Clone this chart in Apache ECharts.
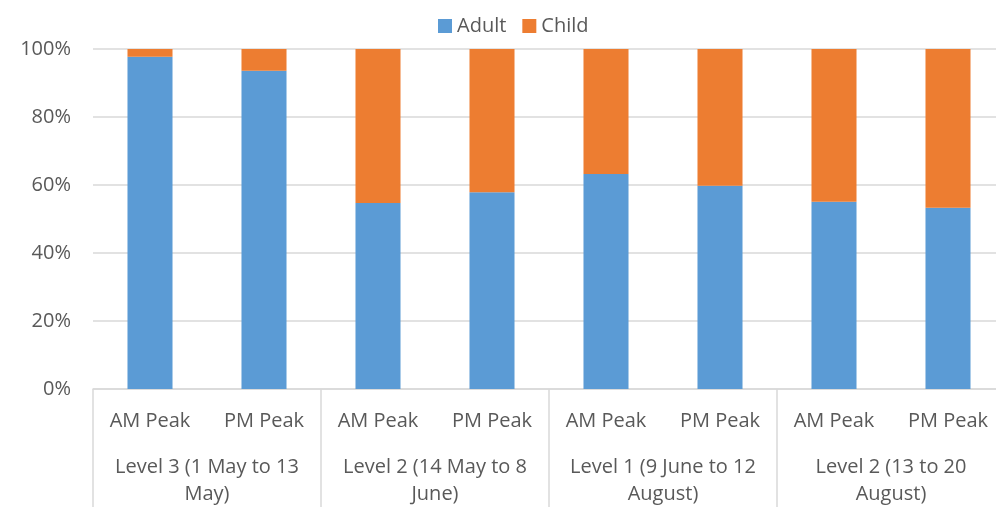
<!DOCTYPE html>
<html>
<head>
<meta charset="utf-8">
<script src="https://cdn.jsdelivr.net/npm/echarts@6/dist/echarts.min.js"></script>
<style>
  html, body { margin: 0; padding: 0; background: #fff; }
  #chart { width: 996px; height: 507px; }
</style>
</head>
<body>
<div id="chart"></div>
<script>
// Share of travellers by period and peak (percent of total)
const peaks = ["AM Peak", "PM Peak", "AM Peak", "PM Peak", "AM Peak", "PM Peak", "AM Peak", "PM Peak"];
const levels = [
  "Level 3 (1 May to 13\nMay)",
  "Level 2 (14 May to 8\nJune)",
  "Level 1 (9 June to 12\nAugust)",
  "Level 2 (13 to 20\nAugust)"
];
const adult = [97.7, 93.6, 54.7, 57.9, 63.2, 59.8, 55.1, 53.3];
const child = [2.3, 6.4, 45.3, 42.1, 36.8, 40.2, 44.9, 46.7];
const yTicks = [0, 20, 40, 60, 80, 100];

const textColor = "#595959";
const lineColor = "#d9d9d9";
const font = "Open Sans";

const chart = echarts.init(document.getElementById("chart"));
chart.setOption({
  animation: false,
  textStyle: { fontFamily: font },
  legend: {
    top: 11,
    left: 433,
    itemWidth: 14,
    itemHeight: 14,
    itemGap: 16,
    icon: "rect",
    textStyle: { fontSize: 20, color: textColor, fontFamily: font },
    data: ["Adult", "Child"]
  },
  // plot area runs slightly past the right edge of the canvas
  grid: { left: 93, width: 912, top: 49, bottom: 118, outerBoundsMode: "none", containLabel: false },
  xAxis: [
    {
      type: "category",
      data: peaks,
      axisLine: { show: true, lineStyle: { color: lineColor, width: 1.5 } },
      axisTick: { show: false },
      axisLabel: { interval: 0, fontSize: 20, color: textColor, margin: 22, fontFamily: font }
    },
    {
      type: "category",
      data: levels,
      position: "bottom",
      axisLine: { show: false },
      axisTick: { show: true, length: 120, interval: 0, lineStyle: { color: lineColor, width: 1.5 } },
      axisLabel: { interval: 0, fontSize: 20, color: textColor, margin: 65, lineHeight: 27, fontFamily: font }
    }
  ],
  yAxis: {
    type: "value",
    min: yTicks[0],
    max: yTicks[yTicks.length - 1],
    interval: 20,
    axisLine: { show: false },
    axisTick: { show: false },
    splitLine: { lineStyle: { color: lineColor, width: 1.5 } },
    axisLabel: { fontSize: 20, color: textColor, margin: 22, formatter: "{value}%", fontFamily: font }
  },
  series: [
    {
      name: "Adult",
      type: "bar",
      stack: "share",
      xAxisIndex: 0,
      barWidth: "39.5%",
      itemStyle: { color: "#5B9BD5" },
      data: adult
    },
    {
      name: "Child",
      type: "bar",
      stack: "share",
      xAxisIndex: 0,
      barWidth: "39.5%",
      itemStyle: { color: "#ED7D31" },
      data: child
    }
  ]
});
</script>
</body>
</html>
